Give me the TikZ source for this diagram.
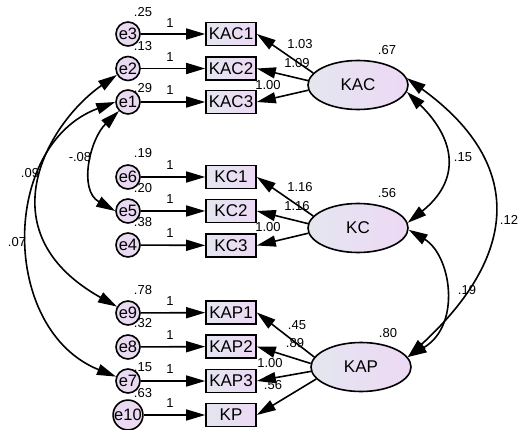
\documentclass[tikz,border=0pt]{standalone}
\usepackage{fontspec}
\setmainfont{Liberation Sans}
\usetikzlibrary{arrows.meta,shapes.geometric}
\definecolor{boxL}{RGB}{228,230,240}
\definecolor{boxR}{RGB}{237,217,244}
\definecolor{circ}{RGB}{233,217,241}
\begin{document}
\begin{tikzpicture}[x=1pt,y=-1pt,line width=1.6pt,
  >={Triangle[length=19pt,width=11pt]},
  err/.style={circle,draw,fill=circ,minimum size=24pt,inner sep=0pt,font=\fontsize{16.5}{16.5}\selectfont},
  obs/.style={rectangle,draw,left color=boxL,right color=boxR,minimum width=50pt,minimum height=23pt,inner sep=0pt,font=\fontsize{17}{17}\selectfont},
  lat/.style={ellipse,draw,left color=boxL,right color=boxR,minimum width=100pt,minimum height=49pt,inner sep=0pt,font=\fontsize{17}{17}\selectfont},
  num/.style={font=\fontsize{13}{13}\selectfont,inner sep=0pt},
]
\useasboundingbox (0,0) rectangle (519,430);
\fill[white] (0,0) rectangle (519,430);

% error terms
\node[err] (e3) at (128,34) {e3};
\node[err] (e2) at (128,68.5) {e2};
\node[err] (e1) at (128,102) {e1};
\node[err] (e6) at (128,177) {e6};
\node[err] (e5) at (128,211) {e5};
\node[err] (e4) at (128,245) {e4};
\node[err] (e9) at (128,313) {e9};
\node[err] (e8) at (128,347) {e8};
\node[err] (e7) at (128,381) {e7};
\node[err] (e10) at (128,415) {e10};

% observed
\node[obs] (KAC1) at (231,34) {KAC1};
\node[obs] (KAC2) at (231,68.5) {KAC2};
\node[obs] (KAC3) at (231,102) {KAC3};
\node[obs] (KC1) at (231,177) {KC1};
\node[obs] (KC2) at (231,211) {KC2};
\node[obs] (KC3) at (231,245.5) {KC3};
\node[obs] (KAP1) at (231,312.5) {KAP1};
\node[obs] (KAP2) at (231,346.5) {KAP2};
\node[obs] (KAP3) at (231,381) {KAP3};
\node[obs] (KP) at (231,415) {KP};

% latent
\node[lat] (KAC) at (358,85) {KAC};
\node[lat] (KC) at (358,228) {KC};
\node[lat] (KAP) at (361,367) {KAP};

% error arrows
\foreach \e/\o in {e3/KAC1,e2/KAC2,e1/KAC3,e6/KC1,e5/KC2,e4/KC3,e9/KAP1,e8/KAP2,e7/KAP3,e10/KP}
  \draw[->] (\e) -- (\o);

% loadings
\draw[->] (KAC.165) -- (KAC1.east);
\draw[->] (KAC.175) -- (KAC2.east);
\draw[->] (KAC.186) -- (KAC3.east);
\draw[->] (KC.165) -- (KC1.east);
\draw[->] (KC.175) -- (KC2.east);
\draw[->] (KC.186) -- (KC3.east);
\draw[->] (KAP.168) -- (KAP1.east);
\draw[->] (KAP.176) -- (KAP2.east);
\draw[->] (KAP.185) -- (KAP3.east);
\draw[->] (KAP.195) -- (KP.east);

% covariances left
\draw[<->] (e1.225) .. controls (90,139) and (78,190) .. (e5.west);
\draw[<->] (e2.210) .. controls (50,121) and (-18,231) .. (e9.150);
\draw[<->] (e1.180) .. controls (0,145) and (0,330) .. (e7.160);

% covariances right
\draw[<->] (KAC.-8) .. controls (456,140) and (461,180) .. (KC.6);
\draw[<->] (KC.-2) .. controls (451,255) and (462,325) .. (KAP.12);
\draw[<->] (KAC.8) .. controls (520,160) and (524,250) .. (KAP.12);

% weights 1
\node[num] (w3) at (170,23) {1};
\node[num] (w2) at (170,57) {1};
\node[num] (w1) at (170,90.5) {1};
\node[num] (w6) at (170,165) {1};
\node[num] (w5) at (170,199.5) {1};
\node[num] (w4) at (170,233.5) {1};
\node[num] (w9) at (170,301) {1};
\node[num] (w8) at (170,335) {1};
\node[num] (w7) at (170,369) {1};
\node[num] (w10) at (170,403.5) {1};

% error variances
\node[num] (v3) at (143,12) {.25};
\node[num] (v2) at (143,46) {.13};
\node[num] (v1) at (143,88) {.29};
\node[num] (v6) at (143,153) {.19};
\node[num] (v5) at (143,188) {.20};
\node[num] (v4) at (143,222) {.38};
\node[num] (v9) at (143,290) {.78};
\node[num] (v8) at (143,323) {.32};
\node[num] (v7) at (143,367) {.15};
\node[num] (v10) at (143,393) {.63};

% latent variances
\node[num] (vKAC) at (387,50) {.67};
\node[num] (vKC) at (387,193) {.56};
\node[num] (vKAP) at (388,333) {.80};

% loading labels
\node[num] (l1) at (300,44) {1.03};
\node[num] (l2) at (297,63) {1.09};
\node[num] (l3) at (268,85) {1.00};
\node[num] (l4) at (300,187) {1.16};
\node[num] (l5) at (297,206) {1.16};
\node[num] (l6) at (268,227) {1.00};
\node[num] (l7) at (297,325) {.45};
\node[num] (l8) at (295,343) {.89};
\node[num] (l9) at (270,363) {1.00};
\node[num] (l10) at (273,385) {.56};

% covariance labels
\node[num] (c1) at (80,157) {-.08};
\node[num] (c2) at (30,173) {.09};
\node[num] (c3) at (17,242) {.07};
\node[num] (c4) at (463,157) {.15};
\node[num] (c5) at (509,220) {.12};
\node[num] (c6) at (467,290) {.19};
\end{tikzpicture}
\end{document}
